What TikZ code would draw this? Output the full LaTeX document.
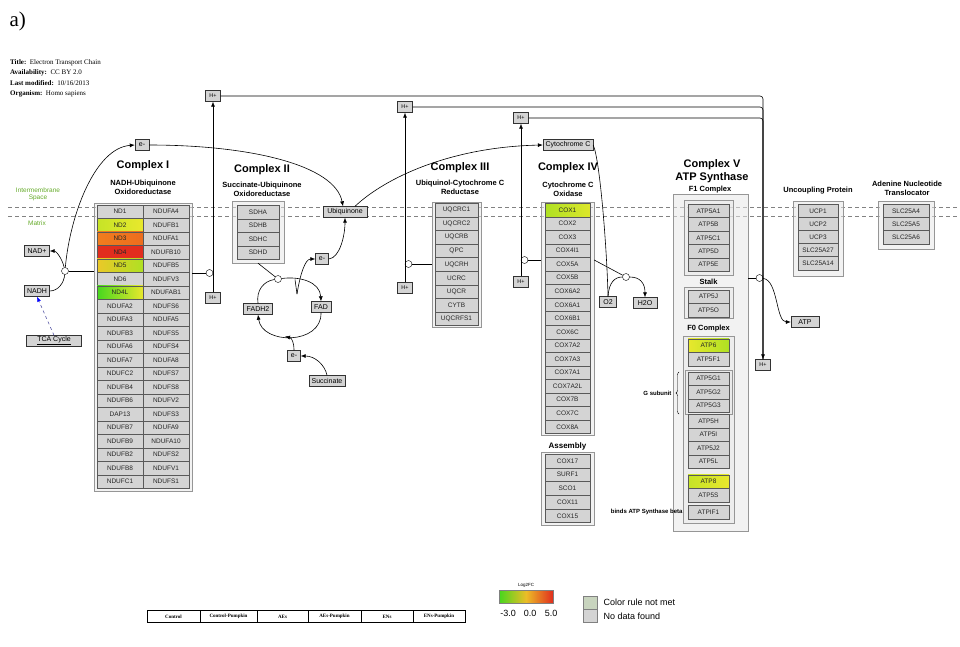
\documentclass[tikz,border=0pt]{standalone}
\usepackage{fontspec}
\setmainfont{Liberation Sans}
\newfontfamily\hdrfont{Liberation Serif}
\usetikzlibrary{arrows.meta,decorations.pathreplacing}

\definecolor{cellfill}{RGB}{212,212,212}
\definecolor{boxfill}{RGB}{232,232,232}
\definecolor{boxline}{RGB}{150,150,150}
\definecolor{memgreen}{RGB}{100,170,40}
\definecolor{memline}{RGB}{130,130,130}
\definecolor{fcred}{RGB}{225,45,30}
\definecolor{fcorange}{RGB}{240,125,30}
\definecolor{fcyellow}{RGB}{232,232,45}
\definecolor{fcgreen}{RGB}{70,215,30}
\definecolor{fclime}{RGB}{175,225,35}
\definecolor{nomet}{RGB}{200,212,190}

\begin{document}
\begin{tikzpicture}[x=1pt, y=-1pt,
    gene/.style = {draw=black!65, fill=cellfill, text=black!85, minimum height=13.5, inner sep=0, font=\fontsize{6.5}{7}\selectfont},
    grp/.style = {draw=boxline, fill=boxfill, fill opacity=0.55, inner sep=0},
    lbl/.style = {draw=black!80, fill=cellfill, inner xsep=1.5, inner ysep=1, minimum height=11, font=\fontsize{7}{7}\selectfont},
    hion/.style = {lbl, minimum width=15, font=\fontsize{5.5}{6}\selectfont},
    knot/.style = {circle, draw, fill=white, inner sep=0, minimum size=7},
    ttl/.style = {font=\fontsize{11}{12.5}\selectfont\bfseries, align=center},
    sub/.style = {font=\fontsize{7.5}{9}\selectfont\bfseries, align=center},
    wire/.style = {draw, line width=0.6},
    arrow/.style = {draw, line width=0.6, -{Latex[length=5,width=4]}},
    g0/.style = {},
    gy/.style = {left color=fclime!60!fcyellow, right color=fcyellow},
    go/.style = {left color=fcorange, right color=fcorange!80!fcred},
    gr/.style = {fill=fcred},
    gl/.style = {left color=fcyellow!70!fcorange, right color=fclime},
    gg/.style = {left color=fcgreen, right color=fcyellow},
    gc/.style = {left color=fclime, right color=fcyellow!80!fclime},
    ga/.style = {left color=fcyellow, right color=fclime},
]
    \useasboundingbox (0,0) rectangle (960,646);

    % membrane
    \draw[memline, dash pattern=on 4pt off 3pt] (8,207) -- (960,207);
    \draw[memline, dash pattern=on 4pt off 3pt] (8,216) -- (960,216);
    \node[text=memgreen, align=center, font=\fontsize{6.5}{7}\selectfont] (ims) at (38,194) {Intermembrane\\Space};
    \node[text=memgreen, font=\fontsize{6.5}{7}\selectfont] (mtx) at (37,223) {Matrix};

    % header
    \node[anchor=west, font=\hdrfont\fontsize{21}{21}\selectfont] (tag) at (6,21) {a)};
    \node[anchor=north west, align=left, inner sep=0, font=\hdrfont\fontsize{7}{10.5}\selectfont] (info) at (10,59)
        {\textbf{Title:}\enspace Electron Transport Chain\\
         \textbf{Availability:}\enspace CC BY 2.0\\
         \textbf{Last modified:}\enspace 10/16/2013\\
         \textbf{Organism:}\enspace Homo sapiens};

    % Complex I
    \node[ttl] (t1) at (143,166) {Complex I};
    \node[sub] (s1) at (143,187) {NADH-Ubiquinone\\Oxidoreductase};
    \node[grp, minimum width=98, minimum height=288] (cx1) at (143,347) {};
    \foreach \g/\s [count=\i from 0] in {ND1/g0, ND2/gy, ND3/go, ND4/gr, ND5/gl, ND6/g0, ND4L/gg, NDUFA2/g0, NDUFA3/g0, NDUFB3/g0, NDUFA6/g0, NDUFA7/g0, NDUFC2/g0, NDUFB4/g0, NDUFB6/g0, DAP13/g0, NDUFB7/g0, NDUFB9/g0, NDUFB2/g0, NDUFB8/g0, NDUFC1/g0}
        \node[gene, \s, minimum width=46] (nda\i) at (120,211.7+13.5*\i) {\g};
    \foreach \g [count=\i from 0] in {NDUFA4, NDUFB1, NDUFA1, NDUFB10, NDUFB5, NDUFV3, NDUFAB1, NDUFS6, NDUFA5, NDUFS5, NDUFS4, NDUFA8, NDUFS7, NDUFS8, NDUFV2, NDUFS3, NDUFA9, NDUFA10, NDUFS2, NDUFV1, NDUFS1}
        \node[gene, minimum width=46] (ndb\i) at (166,211.7+13.5*\i) {\g};

    % Complex II
    \node[ttl] (t2) at (262,170) {Complex II};
    \node[sub] (s2) at (262,189) {Succinate-Ubiquinone\\Oxidoreductase};
    \node[grp, minimum width=52, minimum height=62] (cx2) at (258,232) {};
    \foreach \g [count=\i from 0] in {SDHA, SDHB, SDHC, SDHD}
        \node[gene, minimum width=42] (sdh\i) at (258,212+13.5*\i) {\g};

    % Complex III
    \node[ttl] (t3) at (460,168) {Complex III};
    \node[sub] (s3) at (460,187) {Ubiquinol-Cytochrome C\\Reductase};
    \node[grp, minimum width=49, minimum height=125] (cx3) at (456.5,264.5) {};
    \foreach \g [count=\i from 0] in {UQCRC1, UQCRC2, UQCRB, QPC, UQCRH, UCRC, UQCR, CYTB, UQCRFS1}
        \node[gene, minimum width=43] (uq\i) at (456.5,210+13.6*\i) {\g};

    % Complex IV
    \node[ttl] (t4) at (568,168) {Complex IV};
    \node[sub] (s4) at (568,189) {Cytochrome C\\Oxidase};
    \node[grp, minimum width=53, minimum height=233] (cx4) at (567.5,318.5) {};
    \foreach \g/\s [count=\i from 0] in {COX1/gc, COX2/g0, COX3/g0, COX4I1/g0, COX5A/g0, COX5B/g0, COX6A2/g0, COX6A1/g0, COX6B1/g0, COX6C/g0, COX7A2/g0, COX7A3/g0, COX7A1/g0, COX7A2L/g0, COX7B/g0, COX7C/g0, COX8A/g0}
        \node[gene, \s, minimum width=45] (cox\i) at (567.5,210+13.55*\i) {\g};
    \node[sub, font=\fontsize{8}{9}\selectfont\bfseries] (sa) at (567.5,446) {Assembly};
    \node[grp, minimum width=53, minimum height=73] (asm) at (567.5,488.5) {};
    \foreach \g [count=\i from 0] in {COX17, SURF1, SCO1, COX11, COX15}
        \node[gene, minimum width=45] (as\i) at (567.5,461+13.7*\i) {\g};

    % Complex V
    \node[ttl] (t5) at (712,171) {Complex V\\ATP Synthase};
    \node[sub] (f1) at (710,190) {F1 Complex};
    \node[grp, minimum width=75, minimum height=337] (cx5) at (710.5,362.5) {};
    \node[grp, minimum width=49, minimum height=75] (f1box) at (708.5,237.5) {};
    \foreach \g [count=\i from 0] in {ATP5A1, ATP5B, ATP5C1, ATP5D, ATP5E}
        \node[gene, minimum width=41] (f1g\i) at (708.5,211+13.4*\i) {\g};
    \node[sub] (stk) at (708.5,282) {Stalk};
    \node[grp, minimum width=49, minimum height=31] (stbox) at (708.5,302.5) {};
    \node[gene, minimum width=41] (ATP5J) at (708.5,296.5) {ATP5J};
    \node[gene, minimum width=41] (ATP5O) at (708.5,310) {ATP5O};
    \node[sub] (f0) at (708.5,329) {F0 Complex};
    \node[grp, minimum width=51, minimum height=187] (f0box) at (708.5,429.5) {};
    \node[grp, minimum width=47, minimum height=44] (gbox) at (708.5,392) {};
    \foreach \g/\y/\s in {ATP6/345.5/ga, ATP5F1/359/g0, ATP5G1/378.5/g0, ATP5G2/392/g0, ATP5G3/405.5/g0, ATP5H/421/g0, ATP5I/434.5/g0, ATP5J2/448/g0, ATP5L/461.5/g0, ATP8/481.5/gy, ATP5S/495/g0, ATPIF1/512/g0}
        \node[gene, \s, minimum width=41] (\g) at (708.5,\y) {\g};
    \draw[decorate, decoration={brace, amplitude=3pt}] (679,414) -- (679,372);
    \node[anchor=east, font=\fontsize{6}{7}\selectfont\bfseries] (gsub) at (675,393) {G subunit};
    \node[anchor=east, font=\fontsize{6}{7}\selectfont\bfseries] (beta) at (686,512) {binds ATP Synthase beta};

    % Uncoupling protein, ANT
    \node[sub] (tu) at (818,191) {Uncoupling Protein};
    \node[grp, minimum width=50, minimum height=75] (ucp) at (818,238.5) {};
    \foreach \g [count=\i from 0] in {UCP1, UCP2, UCP3, SLC25A27, SLC25A14}
        \node[gene, minimum width=40] (uc\i) at (818,211+13*\i) {\g};
    \node[sub] (ta) at (907,188) {Adenine Nucleotide\\Translocator};
    \node[grp, minimum width=56, minimum height=48] (ant) at (906,225) {};
    \foreach \g [count=\i from 0] in {SLC25A4, SLC25A5, SLC25A6}
        \node[gene, minimum width=46] (an\i) at (906,211+13*\i) {\g};

    % metabolites
    \node[lbl, minimum width=25] (nadh) at (37,291) {NADH};
    \node[lbl, minimum width=25] (nadp) at (37,251) {NAD+};
    \node[lbl, minimum width=55] (tca) at (54,341) {\underline{TCA Cycle}};
    \node[lbl, minimum width=14] (e1) at (142,145) {e-};
    \node[lbl, minimum width=44] (ubi) at (345,212) {Ubiquinone};
    \node[lbl, minimum width=50] (cytc) at (568,145) {Cytochrome C};
    \node[lbl, minimum width=17] (o2) at (608,302) {O2};
    \node[lbl, minimum width=24] (h2o) at (645,303) {H2O};
    \node[lbl, minimum width=28] (atp) at (805,322) {ATP};
    \node[lbl, minimum width=36] (succ) at (327,381) {Succinate};
    \node[lbl, minimum width=29] (fadh) at (258,309) {FADH2};
    \node[lbl, minimum width=20] (fad) at (321,307) {FAD};
    \node[lbl, minimum width=13] (e2u) at (322,259) {e-};
    \node[lbl, minimum width=13] (e2l) at (294,356) {e-};
    \node[hion] (h1t) at (213,96) {H+};
    \node[hion] (h1b) at (213,298) {H+};
    \node[hion] (h3t) at (405,107) {H+};
    \node[hion] (h3b) at (405,288) {H+};
    \node[hion] (h4t) at (521,118) {H+};
    \node[hion] (h4b) at (521,282) {H+};
    \node[hion] (h5) at (763,365) {H+};

    \node[knot] (k1a) at (65,271) {};
    \node[knot] (k1b) at (209.5,273) {};
    \node[knot] (k2) at (278,279) {};
    \node[knot] (k3) at (408.5,264) {};
    \node[knot] (k4) at (524.5,260) {};
    \node[knot] (k4w) at (626,277) {};
    \node[knot] (k5) at (759.5,278) {};
    \coordinate (arcpt) at (295,279.5);
    \coordinate (dip) at (297,294);
    \coordinate (arclo) at (285,336.5);

    % Complex I links
    \path[wire] (k1a) -- (k1a -| cx1.west);
    \path[wire] (k1b) -- (k1b -| cx1.east);
    \path[wire] (nadh.east) .. controls (58,291) and (64,283) .. (k1a);
    \path[arrow] (k1a) .. controls (62,258) and (56,251) .. (nadp.east);
    \path[arrow] (k1a) .. controls (70,215) and (95,148) .. (e1.west);
    \path[arrow] (h1b) -- (h1t);
    \path[draw=blue!30!gray, line width=0.6, dashed, -{Latex[length=5,width=4,color=blue]}] (tca.north) -- (nadh.south);
    \path[arrow] (e1.east) .. controls (250,145) and (335,165) .. ([xshift=-2]ubi.north);
    \path[arrow] ([xshift=10]ubi.north) .. controls (385,178) and (450,147) .. (cytc.west);

    % proton lines to ATP synthase
    \path[arrow, rounded corners=3] (h1t.east) -| (h5.north);
    \path[wire, rounded corners=3] (h3t.east) -| (h5.north);
    \path[wire, rounded corners=3] (h4t.east) -| (h5.north);

    % Complex II cycle
    \path[wire] (cx2.south) -- (k2);
    \path[wire] (fadh.north) .. controls (256,290) and (264,281) .. (k2);
    \path[arrow] (k2) .. controls (300,276) and (320,282) .. (fad.north);
    \path[arrow] (fad.south) .. controls (322,345) and (262,345) .. (fadh.south);
    \path[wire] (arcpt) -- (dip);
    \path[arrow] (dip) .. controls (300,275) and (305,259) .. (e2u.west);
    \path[arrow] (e2u.east) .. controls (340,258) and (345,235) .. (ubi.south);
    \path[arrow] (succ.north) .. controls (325,365) and (315,356) .. (e2l.east);
    \path[arrow] (e2l.north) .. controls (294,343) and (292,338) .. (arclo);

    % Complex III, IV, V links
    \path[wire] (k3) -- (k3 -| cx3.west);
    \path[arrow] (h3b) -- (h3t);
    \path[wire] (k4) -- (k4 -| cx4.west);
    \path[arrow] (h4b) -- (h4t);
    \path[wire] (k4 -| cx4.east) -- (k4w);
    \path[wire] (cytc.east) .. controls (600,160) and (607,250) .. (o2.north);
    \path[wire] (o2.north) .. controls (609,282) and (615,277) .. (k4w);
    \path[arrow] (k4w) .. controls (640,277) and (645,283) .. (h2o.north);
    \path[wire] (k5) -- (k5 -| cx5.east);
    \path[arrow] (k5) .. controls (778,280) and (776,322) .. (atp.west);

    % samples
    \foreach \t/\x/\w [count=\i] in {Control/173.5/53, Control-Pumpkin/228.5/57, AEs/282.5/51, AEs-Pumpkin/334.5/53, ENs/387/52, ENs-Pumpkin/439/52}
        \node[draw, line width=0.8, minimum width=\w, minimum height=12, inner sep=0, font=\hdrfont\bfseries\fontsize{5}{5}\selectfont] (smp\i) at (\x,616.5) {\t};

    % legend
    \node[font=\fontsize{4.5}{5}\selectfont] (barlbl) at (526,585) {Log2FC};
    \node[draw=black!50, minimum width=54, minimum height=13, inner sep=0, left color=fcgreen, right color=fcred, middle color=fcyellow!60!fcorange] (bar) at (526,597) {};
    \node[font=\fontsize{9}{9}\selectfont] (v1) at (508,613) {-3.0};
    \node[font=\fontsize{9}{9}\selectfont] (v2) at (530,613) {0.0};
    \node[font=\fontsize{9}{9}\selectfont] (v3) at (551,613) {5.0};
    \node[draw=black!50, fill=nomet, minimum width=14, minimum height=13, inner sep=0] (lgA) at (590,602.5) {};
    \node[draw=black!50, fill=cellfill, minimum width=14, minimum height=13, inner sep=0] (lgB) at (590,615.5) {};
    \node[anchor=west, font=\fontsize{9}{9}\selectfont] (lgAt) at (600,602) {Color rule not met};
    \node[anchor=west, font=\fontsize{9}{9}\selectfont] (lgBt) at (600,616) {No data found};
\end{tikzpicture}
\end{document}
